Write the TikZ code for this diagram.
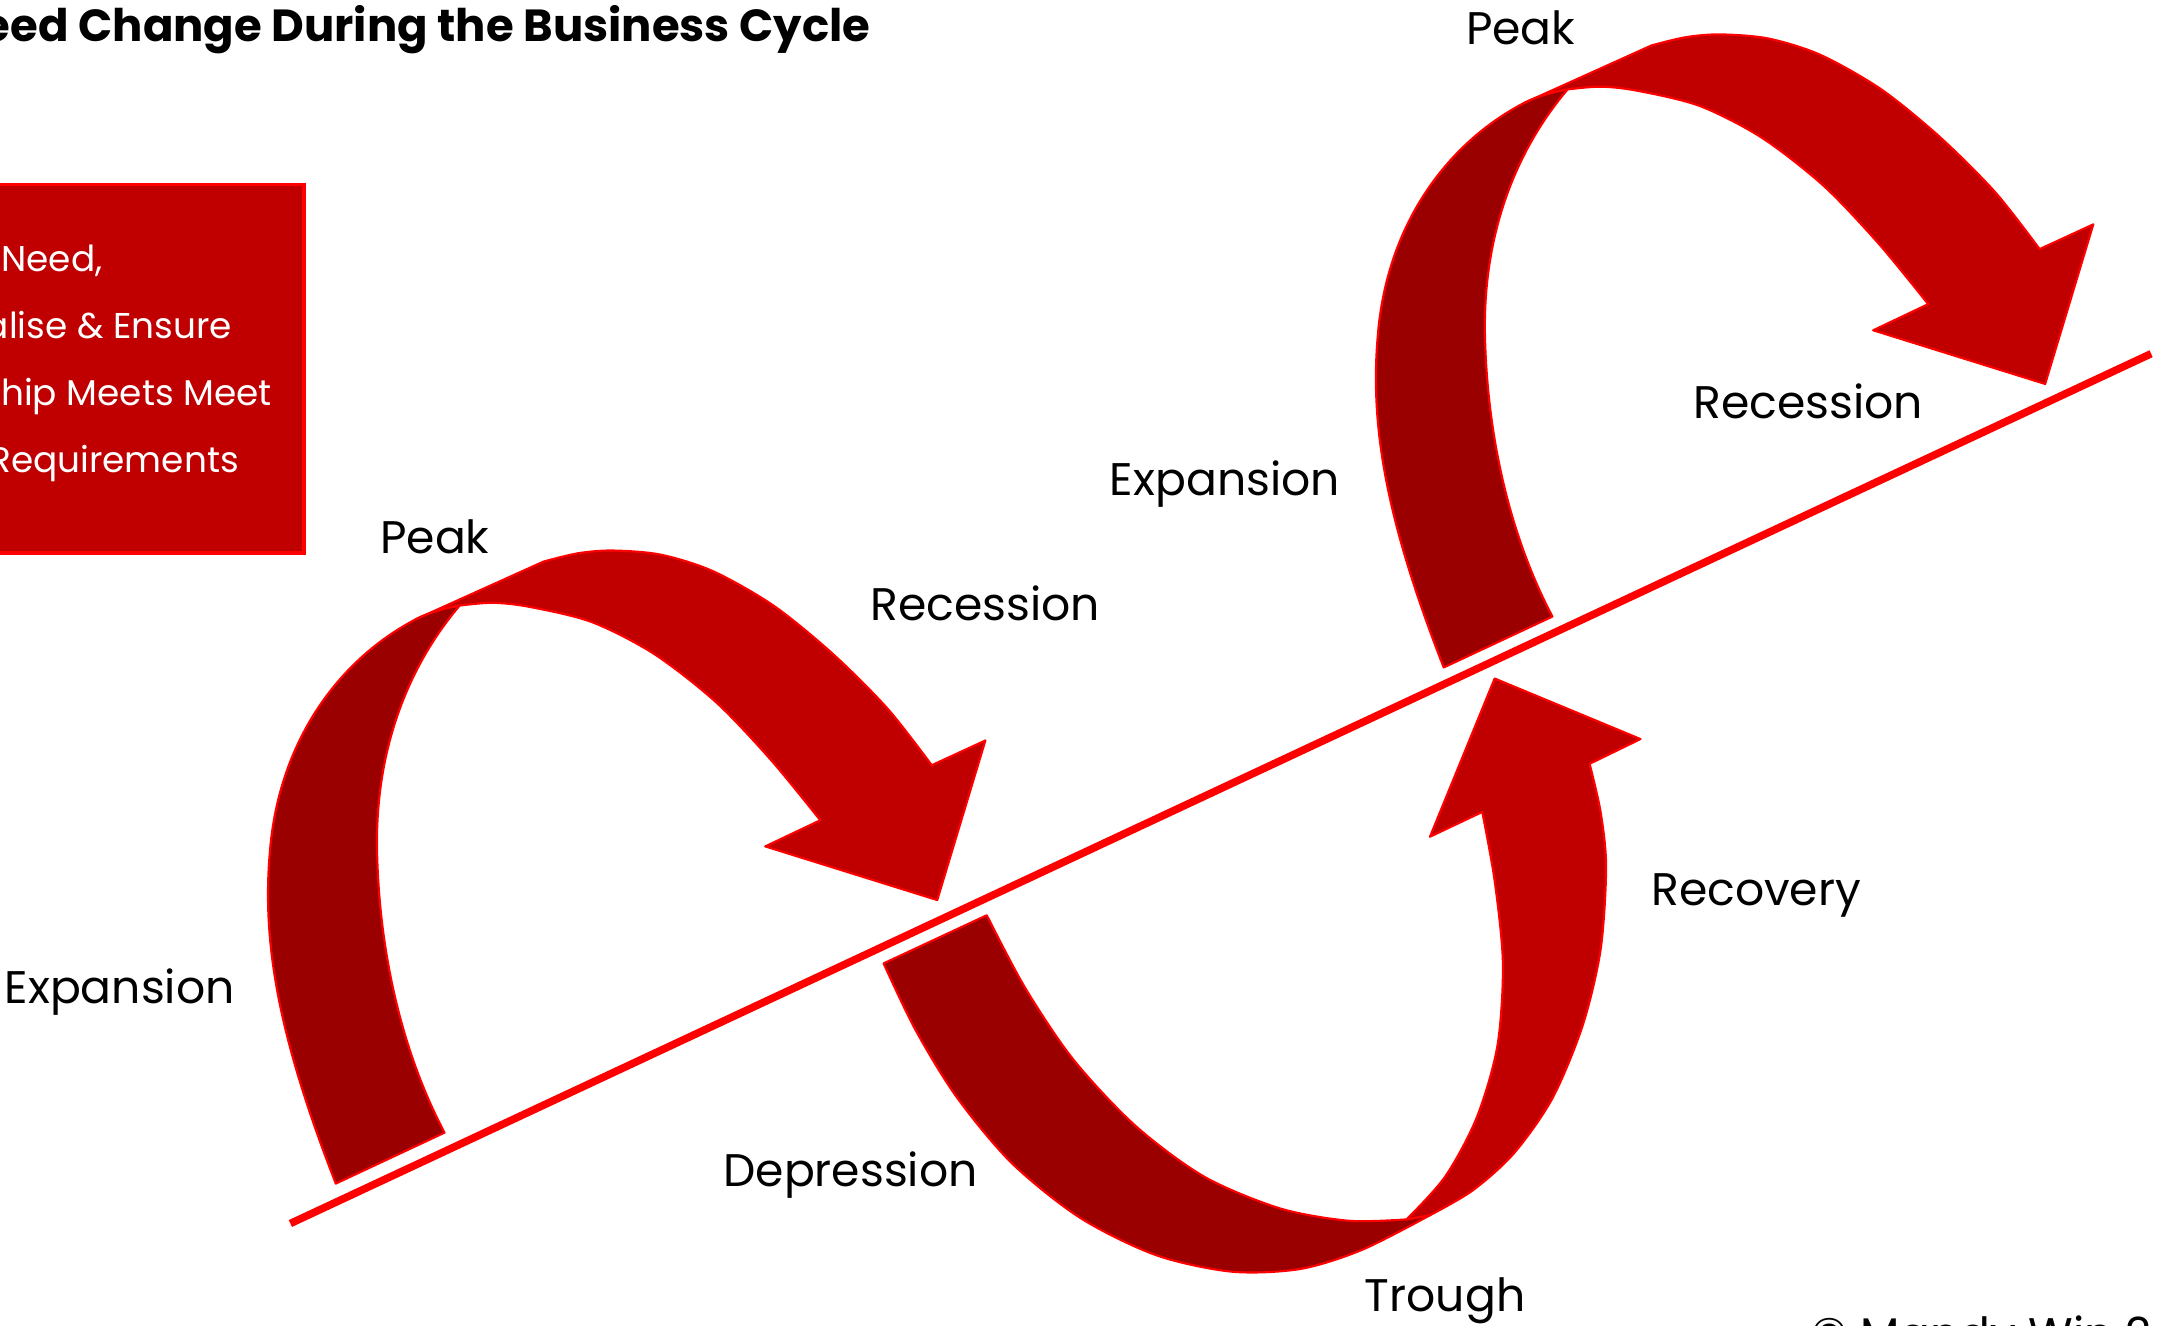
\documentclass[tikz,border=0pt]{standalone}
\usepackage{fontspec}
\setmainfont{Poppins}
\definecolor{ribbonfront}{HTML}{C00000}
\definecolor{ribbonback}{HTML}{9B0000}
\definecolor{ribbonedge}{HTML}{FF0000}

% Upper loop: rises from the trend line, turns over the peak and points down again
\newcommand\upperloopshape{%
  \path[backface] (244,860) .. controls (205,760) and (190,690) .. (196,620)
    .. controls (202,540) and (245,480) .. (302,450)
    .. controls (312,445) and (322,442) .. (334,440)
    .. controls (300,480) and (272,540) .. (274,620)
    .. controls (276,700) and (295,770) .. (323,823) -- cycle;
  \path[frontface] (302,450) -- (395,408)
    -- plot[smooth] coordinates {(395,408) (420,402) (445,400) (480,403) (518,415) (562,440) (605,475) (645,515) (677,556)}
    -- (716,538) -- (681,654) -- (556,615) -- (596,596)
    -- plot[smooth] coordinates {(596,596) (560,552) (520,510) (475,475) (430,452) (385,441) (358,438) (334,440)}
    .. controls (322,442) and (312,445) .. (302,450) -- cycle;
}

\begin{document}
\begin{tikzpicture}[x=0.013763cm, y=-0.013763cm,
  backface/.style={fill=ribbonback, draw=ribbonedge, line width=0.6pt, line join=round},
  frontface/.style={fill=ribbonfront, draw=ribbonedge, line width=0.6pt, line join=round},
  trend/.style={draw=ribbonedge, line width=0.0757cm},
  phase/.style={anchor=base, inner sep=0pt, font=\fontsize{13pt}{15pt}\selectfont},
  boxline/.style={anchor=base east, inner sep=0pt, text=white, font=\fontsize{10.2pt}{12pt}\selectfont}]

\useasboundingbox (0,0) rectangle (1568,963);

% heading
\node[anchor=base east, inner sep=0pt, font=\bfseries\fontsize{12.8pt}{15pt}\selectfont] (title) at (633,30) {eed Change During the Business Cycle};

% side panel
\path[fill=ribbonfront, draw=ribbonedge, line width=1pt] (-20,134) rectangle (221,402);
\node[boxline] (panelA) at (75,197) {Need,};
\node[boxline] (panelB) at (169,246) {alise \& Ensure};
\node[boxline] (panelC) at (198,295) {hip Meets Meet};
\node[boxline] (panelD) at (174,343) {Requirements};

% trend line
\coordinate (trendStart) at (211,889);
\coordinate (trendEnd) at (1563,257);
\draw[trend] (trendStart) -- (trendEnd);

% first expansion / recession loop
\upperloopshape

% depression / recovery loop below the trend line
\path[backface] plot[smooth] coordinates {(642,700) (665,748) (695,797) (735,845) (785,885) (840,912) (895,924) (945,922) (990,908) (1039,883)}
  .. controls (1033,884) and (1028,885) .. (1022,886)
  -- plot[smooth] coordinates {(1022,886) (980,887) (930,878) (875,855) (825,818) (780,770) (745,718) (717,665)} -- cycle;
\path[frontface] (1039,883)
  -- plot[smooth] coordinates {(1039,883) (1070,865) (1100,838) (1128,798) (1150,745) (1163,690) (1167,630) (1163,590) (1155,555)}
  -- (1192,537) -- (1086,493) -- (1039,608) -- (1077,590)
  -- plot[smooth] coordinates {(1077,590) (1086,640) (1092,700) (1088,760) (1073,812) (1050,855) (1022,886)} -- cycle;

% second expansion / recession loop, further along the trend line
\begin{scope}[shift={(805,-375)}]
  \upperloopshape
\end{scope}

% phase labels
\node[phase] (peakA) at (316,402) {Peak};
\node[phase] (recessionA) at (716,451) {Recession};
\node[phase] (expansionA) at (87,729) {Expansion};
\node[phase] (depression) at (618,862) {Depression};
\node[phase] (trough) at (1050,953) {Trough};
\node[phase] (recovery) at (1276,658) {Recovery};
\node[phase] (expansionB) at (890,360) {Expansion};
\node[phase] (peakB) at (1105,32) {Peak};
\node[phase] (recessionB) at (1314,304) {Recession};

% credit line
\node[anchor=base west, inner sep=0pt, font=\fontsize{13pt}{15pt}\selectfont] (credit) at (1316,981) {© Mandy Win 2};
\end{tikzpicture}
\end{document}
